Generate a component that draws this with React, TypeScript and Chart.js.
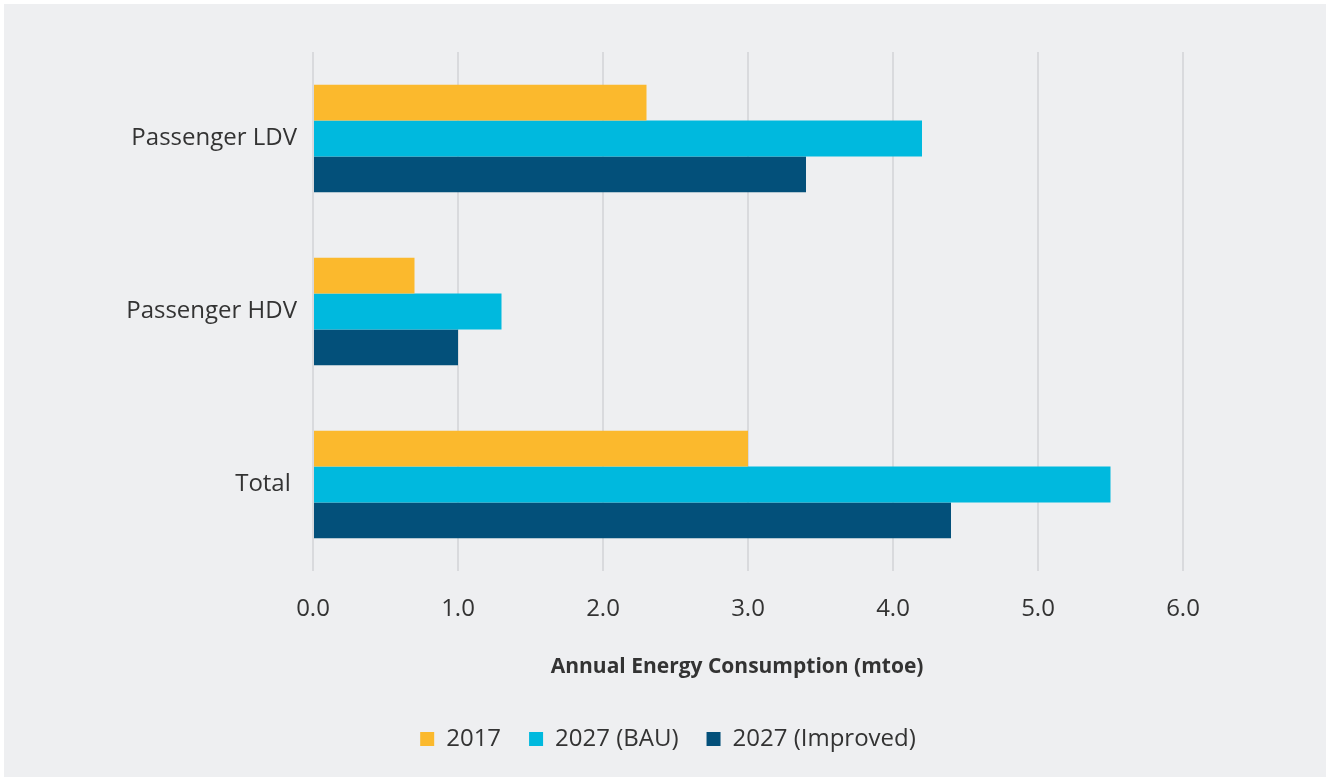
import React, { useEffect, useRef } from "react";
import { Chart, registerables } from "chart.js";

Chart.register(...registerables);

const categories = ["Passenger LDV", "Passenger HDV", "Total "];
const series2017 = [2.3, 0.7, 3.0];
const seriesBAU = [4.2, 1.3, 5.5];
const seriesImproved = [3.4, 1.0, 4.4];
const seriesNames = ["2017", "2027 (BAU)", "2027 (Improved)"];
const xTicks = [0, 1, 2, 3, 4, 5, 6];

const COLORS = ["#FBB92D", "#00B9DE", "#03507A"];
const FONT = "'Open Sans', 'Noto Sans', sans-serif";

export default function App() {
  const ref = useRef<HTMLCanvasElement | null>(null);

  useEffect(() => {
    document.body.style.margin = "0";
    const ctx = ref.current!;
    const chart = new Chart(ctx, {
      type: "bar",
      data: {
        labels: categories,
        datasets: [series2017, seriesBAU, seriesImproved].map((d, i) => ({
          label: seriesNames[i],
          data: d,
          backgroundColor: COLORS[i],
          borderWidth: 0,
          categoryPercentage: 0.62,
          barPercentage: 1,
        })),
      },
      options: {
        indexAxis: "y",
        animation: false,
        responsive: false,
        maintainAspectRatio: false,
        layout: { padding: { top: 52, right: 0, left: 10, bottom: 18 } },
        plugins: {
          tooltip: { enabled: false },
          legend: {
            position: "bottom",
            labels: {
              boxWidth: 14,
              boxHeight: 14,
              padding: 28,
              color: "#333333",
              font: { family: FONT, size: 24 },
            },
          },
        },
        scales: {
          x: {
            min: 0,
            max: 6,
            afterBuildTicks: (scale: any) => {
              scale.ticks = xTicks.map((v) => ({ value: v }));
            },
            grid: {
              color: "#d9dadd",
              lineWidth: 2,
              drawTicks: false,
            },
            border: { display: false },
            ticks: {
              color: "#333333",
              padding: 24,
              font: { family: FONT, size: 24 },
              callback: (v: any) => Number(v).toFixed(1),
            },
            title: {
              display: true,
              text: "Annual Energy Consumption (mtoe)    ",
              color: "#333333",
              font: { family: FONT, size: 21, weight: "bold" },
              padding: { top: 7, bottom: 19 },
            },
          },
          y: {
            grid: { display: false, drawTicks: false },
            border: { display: false },
            ticks: {
              color: "#333333",
              padding: 16,
              font: { family: FONT, size: 24 },
            },
            afterFit: (scale: any) => {
              scale.width = 303;
            },
          },
          yRight: {
            type: "linear",
            position: "right",
            display: true,
            grid: { display: false, drawTicks: false },
            border: { display: false },
            ticks: { display: false },
            afterFit: (scale: any) => {
              scale.width = 143;
            },
          },
        },
      },
    });
    return () => chart.destroy();
  }, []);

  return (
    <div style={{ position: "absolute", left: 0, top: 0, width: 1326, height: 779, background: "#ffffff" }}>
      <div style={{ position: "absolute", left: 4, top: 4, width: 1322, height: 773, background: "#eeeff1" }} />
      <canvas ref={ref} width={1326} height={779} style={{ position: "absolute", left: 0, top: 0, width: 1326, height: 779 }} />
    </div>
  );
}
